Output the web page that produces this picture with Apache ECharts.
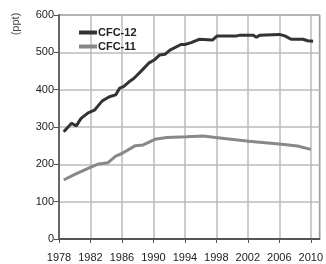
<!DOCTYPE html>
<html>
<head>
<meta charset="utf-8">
<script src="https://cdn.jsdelivr.net/npm/echarts@6/dist/echarts.min.js"></script>
<style>
  html, body { margin: 0; padding: 0; background: #fff; }
  #chart { width: 326px; height: 264px; }
</style>
</head>
<body>
<div id="chart"></div>
<script>
// values (ppt)
var years12 = [1978.6, 1979.6, 1980.2, 1980.8, 1981.7, 1982.5, 1983.5, 1984.4, 1985.2, 1985.7, 1986.2, 1986.9,
  1987.5, 1988.5, 1989.4, 1990.2, 1990.8, 1991.5, 1992.1, 1993.5, 1994.0, 1994.8, 1995.8, 1997.5, 1998.1,
  2000.6, 2001.0, 2002.7, 2003.1, 2003.5, 2006.0, 2006.7, 2007.5, 2009.0, 2009.6, 2010.3];
var cfc12 = [287, 310, 303, 323, 338, 345, 370, 381, 386, 404, 408, 421,
  430, 451, 471, 481, 493, 495, 506, 521, 521, 526, 535, 533, 544,
  544, 546, 546, 540, 546, 548, 544, 535, 535, 531, 530];

var years11 = [1978.6, 1980.0, 1981.7, 1982.9, 1984.2, 1985.2, 1986.0, 1987.7, 1988.7, 1990.2, 1991.7, 1994.2,
  1996.3, 1997.9, 2002.1, 2006.3, 2008.3, 2010.0];
var cfc11 = [158, 173, 189, 200, 204, 222, 229, 250, 252, 267, 272, 274,
  276, 272, 262, 254, 249, 240];

function pairs(xs, ys) {
  return xs.map(function (x, i) { return [x, ys[i]]; });
}

var chart = echarts.init(document.getElementById('chart'));
var font = 'Liberation Sans, Arial, sans-serif';

chart.setOption({
  animation: false,
  grid: {
    left: 59, top: 15, right: 2, bottom: 25,
    show: true, borderColor: '#444', borderWidth: 1
  },
  legend: {
    left: 74, top: 22, orient: 'vertical', itemGap: 3,
    icon: 'rect', itemWidth: 18, itemHeight: 4,
    textStyle: { fontFamily: font, fontSize: 11, fontWeight: 'bold', color: '#222', padding: [0, 0, 0, -4] },
    data: ['CFC-12', 'CFC-11']
  },
  graphic: [{
    type: 'text', x: 16, y: 24, rotation: Math.PI / 2,
    style: { text: '(ppt)', fontFamily: font, fontSize: 11, fill: '#444', align: 'center', verticalAlign: 'middle' }
  }],
  xAxis: {
    type: 'value', min: 1978, max: 2011.1, interval: 4,
    axisLine: { onZero: false, lineStyle: { color: '#555', width: 2 } },
    axisTick: { show: true, length: 4, lineStyle: { color: '#555' } },
    axisLabel: {
      margin: 13, fontFamily: font, fontSize: 11, color: '#222', showMaxLabel: false,
      formatter: function (v) { return v % 4 === 2 ? String(v) : ''; }
    },
    splitLine: { show: true, lineStyle: { color: '#bbb', width: 1.5 } }
  },
  yAxis: {
    type: 'value', min: 0, max: 600, interval: 100,
    axisLine: { show: true, lineStyle: { color: '#666', width: 2 } },
    axisTick: { show: true, length: 5, lineStyle: { color: '#555' } },
    axisLabel: { margin: 5, fontFamily: font, fontSize: 11, color: '#222' },
    splitLine: { show: true, lineStyle: { color: '#bbb', width: 1.5 } }
  },
  series: [{
    name: 'CFC-12', type: 'line', symbol: 'none',
    data: pairs(years12, cfc12),
    itemStyle: { color: '#333' },
    lineStyle: { color: '#333', width: 3 }
  }, {
    name: 'CFC-11', type: 'line', symbol: 'none',
    data: pairs(years11, cfc11),
    itemStyle: { color: '#888' },
    lineStyle: { color: '#888', width: 3 }
  }]
});
</script>
</body>
</html>
